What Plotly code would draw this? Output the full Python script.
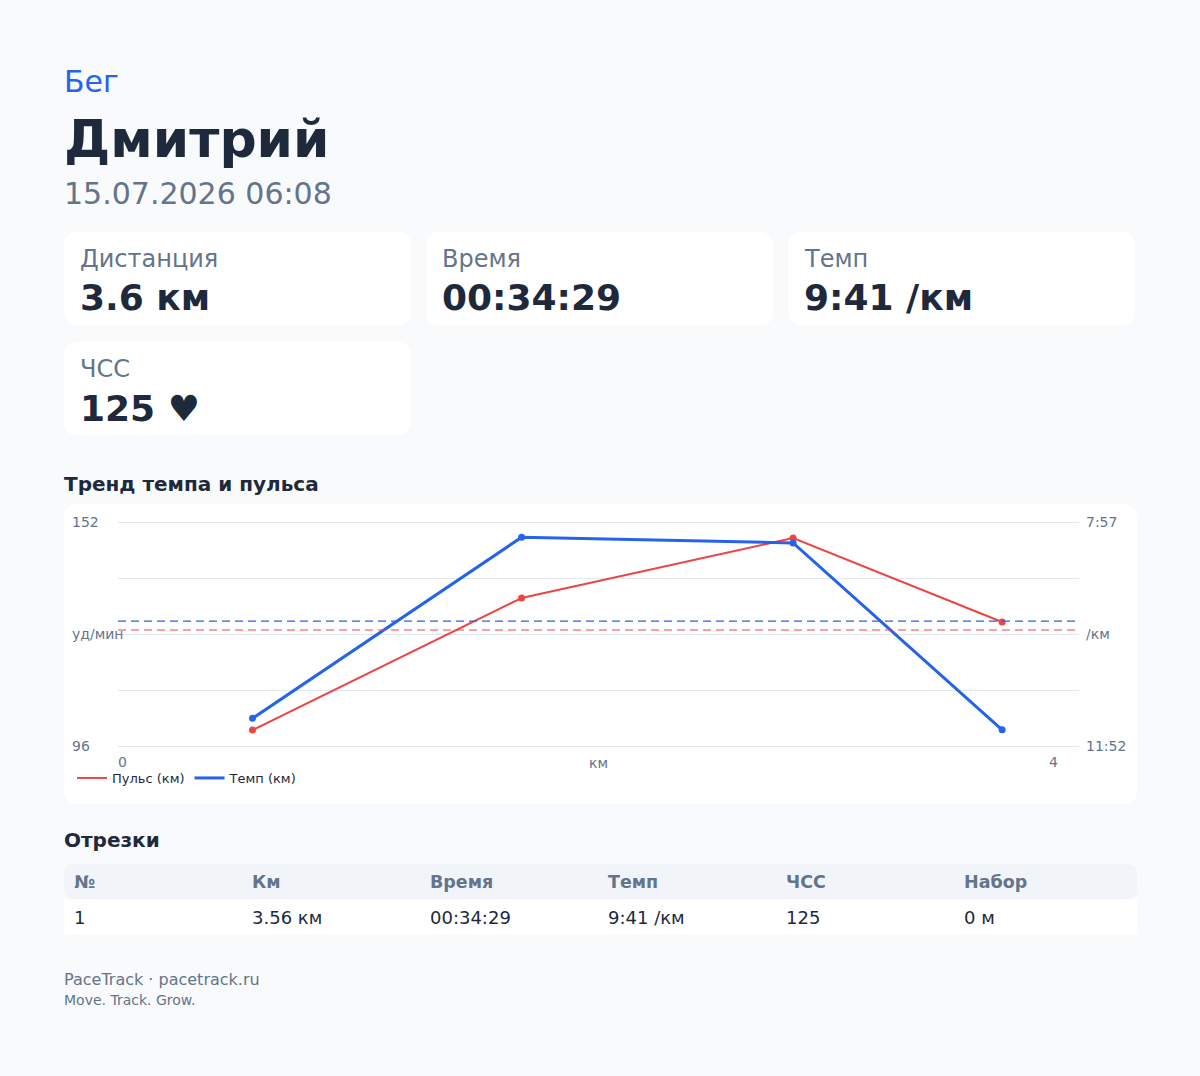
import plotly.graph_objects as go

# данные тренировки
sport = "Бег"
athlete = "Дмитрий"
started = "15.07.2026 06:08"

stat_labels = ["Дистанция", "Время", "Темп", "ЧСС"]
stat_values = ["3.6 км", "00:34:29", "9:41 /км", "125 ♥"]

# точки графика (км, уд/мин, темп в секундах на км)
km = [0.56, 1.68, 2.81, 3.68]
pulse = [100, 133, 148, 127]
pace_sec = [683, 493, 499, 695]
avg_pulse = 125
avg_pace_sec = 581

pulse_ticks = [96, 110, 124, 138, 152]
pulse_ticktext = ["96", "", "уд/мин", "", "152"]
pace_ticks = [477, 535.75, 594.5, 653.25, 712]
pace_ticktext = ["7:57", "", "/км", "", "11:52"]

seg_header = ["№", "Км", "Время", "Темп", "ЧСС", "Набор"]
seg_row = ["1", "3.56 км", "00:34:29", "9:41 /км", "125", "0 м"]

footer_1 = "PaceTrack · pacetrack.ru"
footer_2 = "Move. Track. Grow."

W, H = 1200, 1076
BG = "#f8fafc"
DARK = "#1e293b"
GRAY = "#64748b"
RED = "#ef4444"
BLUE = "#2563eb"
FONT = "DejaVu Sans"


def px(x):
    return x / W


def py(y):
    return 1 - y / H


def rounded(x0, y0, x1, y1, r):
    pts = [
        ("M", [(x0 + r, y0)]), ("L", [(x1 - r, y0)]), ("Q", [(x1, y0), (x1, y0 + r)]),
        ("L", [(x1, y1 - r)]), ("Q", [(x1, y1), (x1 - r, y1)]),
        ("L", [(x0 + r, y1)]), ("Q", [(x0, y1), (x0, y1 - r)]),
        ("L", [(x0, y0 + r)]), ("Q", [(x0, y0), (x0 + r, y0)]),
    ]
    s = ""
    for cmd, pp in pts:
        s += cmd + " " + " ".join(f"{px(a):.5f},{py(b):.5f}" for a, b in pp) + " "
    return s + "Z"


shapes = []
annotations = []


def card(x0, y0, x1, y1, r=14, color="white"):
    shapes.append(dict(type="path", path=rounded(x0, y0, x1, y1, r), xref="paper", yref="paper",
                       fillcolor=color, line=dict(width=0), layer="below"))


def text(x, y, s, size, color=DARK, bold=False, xanchor="left"):
    # у аннотаций есть внутренний отступ ~2px, компенсируем
    shift = -2 if xanchor == "left" else 2
    annotations.append(dict(x=px(x + shift), y=py(y), xref="paper", yref="paper",
                            text=f"<b>{s}</b>" if bold else s,
                            showarrow=False, xanchor=xanchor, yanchor="middle",
                            font=dict(family=FONT, size=size, color=color)))


# шапка
text(64, 82, sport, 30, BLUE)
text(64, 139, athlete, 52, DARK, bold=True)
text(64, 193, started, 30, GRAY)

# карточки с показателями
for i, (lab, val) in enumerate(zip(stat_labels, stat_values)):
    col, row = i % 3, i // 3
    x0 = 64 + col * 362
    y0 = 232 + row * 110
    card(x0, y0, x0 + 347, y0 + 93)
    text(x0 + 16, y0 + 27, lab, 24, GRAY)
    text(x0 + 16, y0 + 66, val, 36, DARK, bold=True)

# график
text(64, 484, "Тренд темпа и пульса", 20, DARK, bold=True)
card(64, 504, 1137, 804)
text(118, 762, "0", 14, GRAY)
text(1058, 762, "4", 14, GRAY, xanchor="right")

# таблица отрезков
text(64, 840, "Отрезки", 20, DARK, bold=True)
card(64, 864, 1137, 899, r=10, color="#f1f5f9")
shapes.append(dict(type="rect", x0=px(64), x1=px(1137), y0=py(935), y1=py(899), xref="paper", yref="paper",
                   fillcolor="white", line=dict(width=0), layer="below"))
for i, (h, v) in enumerate(zip(seg_header, seg_row)):
    text(74 + i * 178, 882, h, 17.5, GRAY, bold=True)
    text(74 + i * 178, 917, v, 18, DARK)

# подвал
text(64, 979, footer_1, 16, GRAY)
text(64, 1000, footer_2, 14, GRAY)

fig = go.Figure()
fig.add_trace(go.Scatter(x=km, y=pulse, mode="lines", name="Пульс (км)", line=dict(color=RED, width=2)))
fig.add_trace(go.Scatter(x=km, y=pace_sec, mode="lines", name="Темп (км)", yaxis="y2",
                         line=dict(color=BLUE, width=3)))
fig.add_trace(go.Scatter(x=km, y=pulse, mode="markers", showlegend=False, marker=dict(color=RED, size=7)))
fig.add_trace(go.Scatter(x=km, y=pace_sec, mode="markers", showlegend=False, yaxis="y2",
                         marker=dict(color=BLUE, size=7)))

# средние значения пунктиром
shapes.append(dict(type="line", xref="x domain", x0=0, x1=0.996, yref="y", y0=avg_pulse, y1=avg_pulse,
                   line=dict(color=RED, width=1.2, dash="8px,5px")))
shapes.append(dict(type="line", xref="x domain", x0=0, x1=0.996, yref="y2", y0=avg_pace_sec, y1=avg_pace_sec,
                   line=dict(color=BLUE, width=1.2, dash="8px,5px")))

# небольшой запас по краям, чтобы крайние линии сетки не срезались
pad_px = 1.6
d1 = pad_px * (152 - 96) / 224
d2 = pad_px * (712 - 477) / 224

fig.update_layout(
    width=W, height=H, autosize=False,
    margin=dict(l=0, r=0, t=0, b=0),
    paper_bgcolor=BG, plot_bgcolor="white",
    font=dict(family=FONT, color=GRAY),
    shapes=shapes, annotations=annotations,
    showlegend=True,
    legend=dict(orientation="h", x=px(72), y=py(778), xanchor="left", yanchor="middle",
                font=dict(size=13, color=DARK), itemwidth=30, bgcolor="rgba(0,0,0,0)"),
    xaxis=dict(domain=[px(118), px(1079)], range=[0, 4], showgrid=False, zeroline=False,
               showticklabels=False, ticks="", automargin=False,
               title=dict(text="км", font=dict(size=14, color=GRAY), standoff=10)),
    yaxis=dict(domain=[py(746 + pad_px), py(522 - pad_px)], range=[96 - d1, 152 + d1],
               tickvals=pulse_ticks, ticktext=pulse_ticktext,
               gridcolor="#e2e8f0", gridwidth=1, zeroline=False, anchor="free", position=px(71),
               side="right", tickfont=dict(size=14, color=GRAY), automargin=False),
    yaxis2=dict(overlaying="y", side="right", anchor="x", range=[712 + d2, 477 - d2], tickvals=pace_ticks,
                ticktext=pace_ticktext, showgrid=False, zeroline=False, ticklabelstandoff=6,
                tickfont=dict(size=14, color=GRAY), automargin=False),
    hovermode=False,
)

fig.write_html("out.html", config={"displayModeBar": False},
               post_script="document.body.style.margin='0';document.body.style.background='#f8fafc';")
